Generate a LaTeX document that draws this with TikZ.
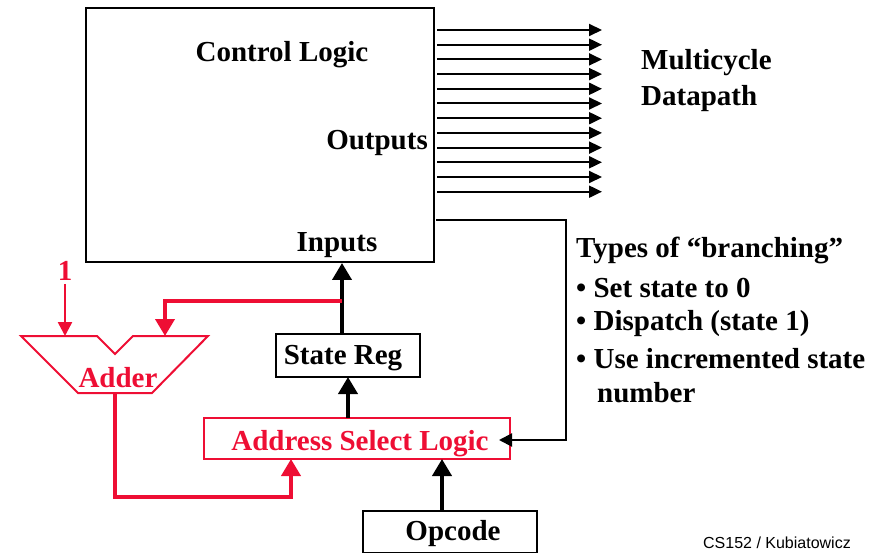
\documentclass[tikz,border=0pt]{standalone}
\usepackage{fontspec}
\setmainfont{Liberation Serif}
\setsansfont{Liberation Sans}
\usetikzlibrary{arrows.meta}
\definecolor{ared}{RGB}{238,14,52}
\tikzset{
  lbl/.style={font=\fontsize{29}{31}\selectfont\bfseries, inner sep=0pt, yshift=-2.5pt},
  blk/.style={draw=black, line width=2pt, inner sep=0pt},
  outarr/.style={line width=2pt, -{Triangle[length=13pt,width=12pt]}},
  thick arr/.style={line width=4pt, -{Triangle[length=17pt,width=19pt]}},
  redarr/.style={draw=ared, line width=4pt, -{Triangle[length=17pt,width=19pt]}},
  thinarr/.style={line width=2pt, -{Triangle[length=13pt,width=13pt]}},
}
\begin{document}
\begin{tikzpicture}[x=1pt,y=-1pt]
\useasboundingbox (0,0) rectangle (886,553);
% control logic box
\node[blk, minimum width=348pt, minimum height=254pt] (ctrl) at (260,135.5) {};
\node[lbl] (cl) at (282,52) {Control Logic};
\node[lbl, anchor=east] (outs) at (428,140) {Outputs};
\node[lbl] (ins) at (337,243) {Inputs};
% output arrows
\foreach \i in {0,...,11}{
  \coordinate (os\i) at (437,30+\i*14.7);
  \coordinate (oe\i) at (602,30+\i*14.7);
  \draw[outarr] (os\i) -- (oe\i);
}
\node[lbl, anchor=west] (mc) at (641,60) {Multicycle};
\node[lbl, anchor=west] (dp) at (641,96) {Datapath};
% branching text
\node[lbl, anchor=west] (t0) at (576,248) {Types of “branching”};
\node[lbl, anchor=west] (t1) at (576,285) {• Set state to 0};
\node[lbl, anchor=west] (t2) at (576,321) {• Dispatch (state 1)};
\node[lbl, anchor=west] (t3) at (576,356) {• Use incremented state};
\node[lbl, anchor=west] (t4) at (597,390) {number};
% state reg
\node[blk, minimum width=144pt, minimum height=43pt] (sr) at (348,355) {};
\node[lbl] (srt) at (343,356) {State Reg};
% address select logic
\node[draw=ared, line width=2pt, minimum width=306pt, minimum height=41pt, inner sep=0pt] (asl) at (357,438.5) {};
\node[lbl, text=ared] (aslt) at (360,441) {Address Select Logic};
% opcode
\node[blk, minimum width=174pt, minimum height=42pt] (op) at (450,532) {};
\node[lbl] (opt) at (453,531) {Opcode};
% adder
\coordinate (a1) at (21,336);
\coordinate (a2) at (97,336);
\coordinate (a3) at (115,354);
\coordinate (a4) at (133,336);
\coordinate (a5) at (208,336);
\coordinate (a6) at (152,393);
\coordinate (a7) at (78,393);
\draw[ared, line width=2pt, line join=miter] (a1) -- (a2) -- (a3) -- (a4) -- (a5) -- (a6) -- (a7) -- cycle;
\node[lbl, text=ared] (addt) at (118,375) {Adder};
\node[lbl, text=ared] (one) at (65,268) {1};
\coordinate (onein) at (65,336);
\draw[redarr, line width=2.5pt, -{Triangle[length=14pt,width=14pt]}] (65,284) -- (onein);
% black arrows
\coordinate (srtop) at (342,333);
\coordinate (ctrlin) at (342,263);
\draw[thick arr] (srtop) -- (ctrlin);
\coordinate (asltop) at (348,418);
\coordinate (srbot) at (348,377);
\draw[thick arr] (asltop) -- (srbot);
\coordinate (optop) at (442,511);
\coordinate (aslbot) at (442,459);
\draw[thick arr] (optop) -- (aslbot);
% red feedback to adder
\coordinate (br) at (342,301);
\coordinate (addin) at (165,336);
\draw[redarr] (br) -- (165,301) -- (addin);
% adder output to ASL
\coordinate (addout) at (115,393);
\coordinate (aslin) at (291,459);
\draw[redarr] (addout) -- (115,497) -- (291,497) -- (aslin);
% control output feedback
\coordinate (fb0) at (436,220);
\coordinate (fb1) at (566,220);
\coordinate (fb2) at (566,440);
\coordinate (fbend) at (499,440);
\draw[thinarr] (fb0) -- (fb1) -- (fb2) -- (fbend);
% footer
\node[font=\sffamily\fontsize{16}{18}\selectfont, anchor=east, inner sep=0pt] (ft) at (851,543) {CS152 / Kubiatowicz};
\end{tikzpicture}
\end{document}
